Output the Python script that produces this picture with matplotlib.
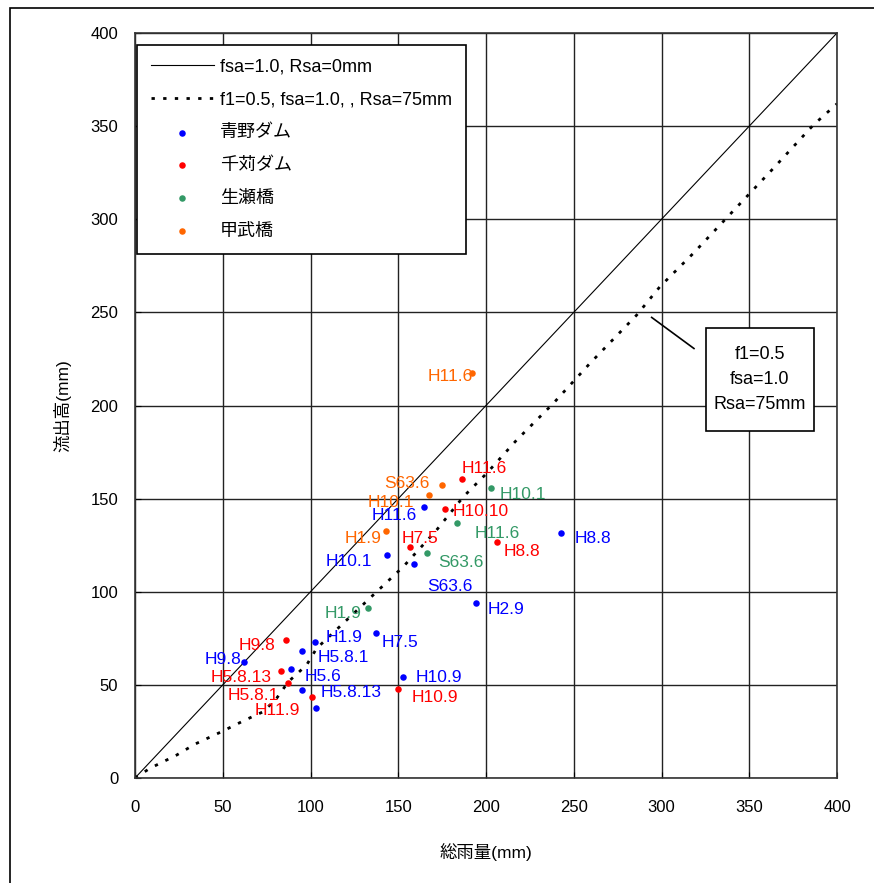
import numpy as np
import matplotlib
matplotlib.use('Agg')
import matplotlib.pyplot as plt
from matplotlib.patches import Rectangle

plt.rcParams['font.family'] = ['Liberation Sans', 'Noto Sans CJK JP']

# reference lines
line_x = [0, 400]
line_y = [0, 400]
# model curve f1=0.5, fsa=1.0, Rsa=75mm
model_x = [0, 8.5, 23.7, 34.2, 49.4, 62.7, 73.1, 80.7, 87.4, 97.8, 103.5, 136.8, 152.9,
           171.9, 187.1, 200.4, 217.5, 238.4, 259.3, 285.9, 299.1, 318.1, 333.3, 348.5,
           363.7, 386.5, 400]
model_y = [0, 5.2, 12.3, 18.2, 24.9, 31.1, 35.6, 42.8, 51.7, 60.7, 69.6, 99.2, 113.5,
           133.2, 151.0, 163.6, 181.5, 201.2, 222.7, 248.6, 263.8, 281.7, 296.9, 312.1,
           327.3, 350.6, 362.0]

# 青野ダム
aono_x = [242.7, 194.3, 159.2, 143.4, 164.5, 102.6, 137.1, 95.3, 62.3, 88.9, 95.3, 152.5, 103.3]
aono_y = [131.5, 94.0, 114.7, 119.9, 145.7, 73.2, 77.6, 68.2, 62.5, 58.7, 47.5, 54.4, 37.4]
aono_lab = ['H8.8', 'H2.9', 'S63.6', 'H10.1', 'H11.6', 'H1.9', 'H7.5', 'H5.8.1', 'H9.8',
            'H5.6', 'H5.8.13', 'H10.9', '']
# 千苅ダム
sengari_x = [186.3, 176.4, 156.9, 206.5, 86.0, 83.2, 87.0, 100.9, 149.9]
sengari_y = [160.4, 144.6, 124.0, 126.5, 74.1, 57.3, 51.0, 43.3, 47.6]
sengari_lab = ['H11.6', 'H10.10', 'H7.5', 'H8.8', 'H9.8', 'H5.8.13', 'H5.8.1', 'H11.9', 'H10.9']
# 生瀬橋
namaze_x = [202.8, 183.5, 166.2, 132.8]
namaze_y = [155.9, 136.9, 120.8, 91.4]
namaze_lab = ['H10.1', 'H11.6', 'S63.6', 'H1.9']
# 甲武橋
koubu_x = [191.8, 174.7, 167.3, 142.8]
koubu_y = [217.6, 157.5, 152.2, 132.5]
koubu_lab = ['H11.6', 'S63.6', 'H10.1', 'H1.9']

# label offsets (pixels)
aono_off = [(14, -5), (12, -7), (13, -22), (-61, -7), (-52, -9), (11, 4), (6, -9), (15, -7),
            (-40, 2), (14, -8), (18, -3), (13, -1), (0, 0)]
sengari_off = [(0, 11), (8, -3), (-9, 9), (6, -9), (-47, -6), (-70, -6), (-60, -12),
               (-57, -13), (14, -8)]
namaze_off = [(9, -7), (18, -10), (12, -9), (-43, -6)]
koubu_off = [(-44, -4), (-57, 1), (-61, -8), (-41, -7)]

fig = plt.figure(figsize=(8.74, 8.83), dpi=100)
fig.patches.append(Rectangle((10 / 874, -0.05), 1.2, 1 - 8 / 883 + 0.05,
                             transform=fig.transFigure, fill=False, ec='black', lw=1.2))
ax = fig.add_axes([135 / 874, 105 / 883, 702 / 874, 745 / 883])

ax.plot(line_x, line_y, color='black', lw=0.8, label='fsa=1.0, Rsa=0mm')
ax.plot(model_x, model_y, color='black', lw=2.0, linestyle=(0, (1.2, 3.0)),
        label='f1=0.5, fsa=1.0, , Rsa=75mm')

series = [
    (aono_x, aono_y, aono_lab, aono_off, '#0000ff', '青野ダム'),
    (sengari_x, sengari_y, sengari_lab, sengari_off, '#ff0000', '千苅ダム'),
    (namaze_x, namaze_y, namaze_lab, namaze_off, '#339966', '生瀬橋'),
    (koubu_x, koubu_y, koubu_lab, koubu_off, '#ff6600', '甲武橋'),
]
for xs, ys, labs, offs, col, name in series:
    ax.scatter(xs, ys, s=22, color=col, label=name, zorder=4, linewidths=0)
    for x, y, t, o in zip(xs, ys, labs, offs):
        if t:
            ax.annotate(t, (x, y), xytext=o, textcoords='offset pixels',
                        ha='left', va='center', color=col, fontsize=12.5, zorder=5)

# annotation box with leader line
ax.plot([294.4, 318.5], [247.3, 230.6], color='black', lw=1.2)
ax.add_patch(Rectangle((325.4, 186.3), 61.5, 55.3, fc='white', ec='black', lw=1.2, zorder=6))
ax.text(356.1, 214.0, 'f1=0.5\nfsa=1.0\nRsa=75mm', ha='center', va='center',
        fontsize=13, linespacing=1.6, zorder=7)

ax.set_xlim(0, 400)
ax.set_ylim(0, 400)
ax.set_xticks(np.arange(0, 401, 50))
ax.set_yticks(np.arange(0, 401, 50))
ax.grid(True, color='#222222', lw=1.0)
ax.set_axisbelow(True)
ax.tick_params(direction='in', length=4, labelsize=12)
ax.tick_params(axis='x', pad=16)
ax.tick_params(axis='y', pad=12)
for s in ax.spines.values():
    s.set_linewidth(1.2)
    s.set_color('#333333')

ax.set_xlabel('総雨量(mm)', fontsize=12.5, labelpad=20)
ax.set_ylabel('流出高(mm)', fontsize=12.5, labelpad=14)

leg = ax.legend(loc='upper left', bbox_to_anchor=(2 / 702, (778 - 45) / 745),
                borderaxespad=0, fontsize=13, frameon=True, fancybox=False,
                edgecolor='black', framealpha=1, handlelength=3.5, handletextpad=0.35,
                labelspacing=0.88, borderpad=0.75, markerscale=1.0, scatterpoints=1)
leg.get_frame().set_linewidth(1.2)
leg.set_zorder(8)

fig.savefig('out.png', dpi=100)
